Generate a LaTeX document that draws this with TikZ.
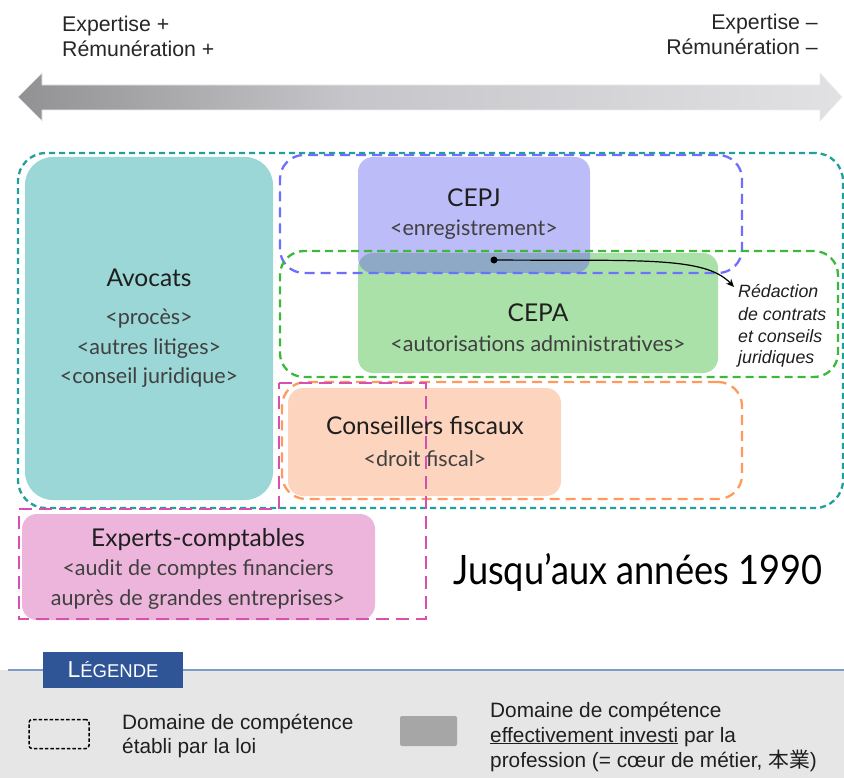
\documentclass[tikz,border=0pt]{standalone}
\usepackage{fontspec}
\setmainfont{Liberation Sans}
\newfontfamily\latof{Lato}
\newfontfamily\cjkf{Noto Sans CJK JP}
\usetikzlibrary{arrows.meta}
\definecolor{tealdash}{HTML}{20A09C}
\definecolor{avocfill}{HTML}{9BD7D6}
\definecolor{bluedash}{HTML}{6E6EFF}
\definecolor{cepjfill}{HTML}{BCBCF8}
\definecolor{greendash}{HTML}{3CB83C}
\definecolor{cepafill}{HTML}{A9E1A9}
\definecolor{overlapfill}{HTML}{8DA9C6}
\definecolor{orangedash}{HTML}{FF9A5C}
\definecolor{fiscfill}{HTML}{FDD5BE}
\definecolor{magdash}{HTML}{D94FB0}
\definecolor{expfill}{HTML}{EDB5DB}
\definecolor{legband}{HTML}{E6E6E6}
\definecolor{legline}{HTML}{7F9CC8}
\definecolor{legtab}{HTML}{2F5597}
\definecolor{legsq}{HTML}{A6A6A6}
\definecolor{arrowL}{HTML}{505050}
\definecolor{arrowM}{HTML}{C6C6CA}
\definecolor{arrowR}{HTML}{F8F8FA}
\pgfdeclarehorizontalshading{grayarrow}{100bp}{color(0bp)=(arrowL); color(45bp)=(arrowM); color(100bp)=(arrowR)}
\tikzset{
  fillbox/.style={rectangle, rounded corners=15pt, inner sep=0pt, outer sep=0pt, draw=none},
  lawbox/.style={rectangle, rounded corners=24pt, inner sep=0pt, outer sep=0pt, line width=2.3pt, fill=none},
  ttl/.style={font=\latof\fontsize{24.5}{28}\selectfont, text=black!88, anchor=base, inner sep=0pt},
  sub/.style={font=\latof\fontsize{21.5}{25}\selectfont, text=black!75, anchor=base, inner sep=0pt},
  toptxt/.style={font=\fontsize{21.3}{25}\selectfont, text=black!85, inner sep=0pt},
  legtxt/.style={font=\fontsize{20.8}{24}\selectfont, text=black!88, inner sep=0pt, anchor=base west},
  redtxt/.style={font=\itshape\fontsize{17.8}{21}\selectfont, text=black!88, inner sep=0pt, anchor=base west},
}
\begin{document}
\begin{tikzpicture}[x=1pt,y=-1pt]
\useasboundingbox (0,0) rectangle (844,778);
% top labels
\node[toptxt, anchor=base west] (tl1) at (62,32) {Expertise +};
\node[toptxt, anchor=base west] (tl2) at (62,57) {Rémunération +};
\node[toptxt, anchor=base east] (tr1) at (818,30) {Expertise –};
\node[toptxt, anchor=base east] (tr2) at (818,55) {Rémunération –};
% gradient double arrow
\path[shading=grayarrow, draw=black!8, line width=0.6pt]
  (18,97) -- (42,73) -- (42,85) -- (820,85) -- (820,73) -- (842,97)
  -- (820,121) -- (820,110) -- (42,110) -- (42,121) -- cycle;
% legal domain of avocats
\node[lawbox, draw=tealdash, rounded corners=28pt, dash pattern=on 6pt off 4pt,
      minimum width=825pt, minimum height=355pt] (avlaw) at (430.5,330.5) {};
% filled core boxes
\node[fillbox, fill=avocfill, rounded corners=28pt, minimum width=248pt, minimum height=343pt] (avocats) at (149,328.5) {};
\node[fillbox, fill=cepafill, minimum width=360pt, minimum height=120pt] (cepa) at (538,313) {};
\node[fillbox, fill=cepjfill, minimum width=232pt, minimum height=116pt] (cepj) at (474,215) {};
\begin{scope}
  \clip[rounded corners=15pt] (cepj.north west) rectangle (cepj.south east);
  \fill[overlapfill, rounded corners=15pt] (cepa.north west) rectangle (cepa.south east);
\end{scope}
\node[fillbox, fill=fiscfill, minimum width=273pt, minimum height=108pt] (fisc) at (424.5,442) {};
\node[fillbox, fill=expfill, minimum width=353pt, minimum height=106pt] (experts) at (198.5,567) {};
% legal domains (dashed)
\node[lawbox, draw=bluedash, dash pattern=on 10pt off 6pt, minimum width=462pt, minimum height=118pt] (cepjlaw) at (511,214) {};
\node[lawbox, draw=greendash, dash pattern=on 8pt off 5pt, minimum width=558pt, minimum height=126pt] (cepalaw) at (559,314) {};
\node[lawbox, draw=orangedash, dash pattern=on 10pt off 6pt, minimum width=460pt, minimum height=117pt] (fisclaw) at (512,440.5) {};
\draw[magdash, line width=2.3pt, dash pattern=on 13pt off 7pt]
  (279,383) -- (426,383) -- (426,619) -- (19,619) -- (19,509) -- (279,509) -- cycle;
% texts in boxes
\node[ttl] (avt) at (149,287) {Avocats};
\node[sub] (av1) at (149,325) {<procès>};
\node[sub] (av2) at (149,354) {<autres litiges>};
\node[sub] (av3) at (149,383) {<conseil juridique>};
\node[ttl] (cepjt) at (474,207) {CEPJ};
\node[sub] (cepj1) at (474,236) {<enregistrement>};
\node[ttl] (cepat) at (538,322) {CEPA};
\node[sub] (cepa1) at (538,351) {<autorisations administratives>};
\node[ttl] (fisct) at (425,434) {Conseillers fiscaux};
\node[sub] (fisc1) at (425,466) {<droit fiscal>};
\node[ttl] (expt) at (198,546) {Experts-comptables};
\node[sub] (exp1) at (198,575) {<audit de comptes financiers};
\node[sub] (exp2) at (198,605) {auprès de grandes entreprises>};
% arrow to note
\node[circle, fill=black, inner sep=0pt, minimum size=7pt] (dot) at (494,260) {};
\node[redtxt] (r1) at (738,298) {Rédaction};
\node[redtxt] (r2) at (738,320) {de contrats};
\node[redtxt] (r3) at (738,342) {et conseils};
\node[redtxt] (r4) at (738,363) {juridiques};
\coordinate (arrend) at (734,287);
\draw[line width=1.2pt, -{Stealth[length=8pt,width=7pt]}]
  (dot.center) .. controls (640,261) and (705,256) .. (arrend);
% period title
\node[anchor=base west, inner sep=0pt] (period) at (453,584)
  {\resizebox{369pt}{31pt}{\latof Jusqu’aux années 1990}};
% legend
\fill[legband] (0,670) rectangle (844,778);
\draw[legline, line width=1.5pt] (8,670) -- (844,670);
\node[fill=legtab, text=white, minimum width=140pt, minimum height=36pt, inner sep=0pt] (legtitle) at (113,670)
  {\fontsize{23}{26}\selectfont L\fontsize{18.5}{26}\selectfont ÉGENDE};
\node[draw=black, line width=1.5pt, dash pattern=on 3.5pt off 2pt, rounded corners=3pt,
      minimum width=60pt, minimum height=29pt, inner sep=0pt] (legdash) at (59,734) {};
\node[legtxt] (ld1) at (122,729) {Domaine de compétence};
\node[legtxt] (ld2) at (122,753) {établi par la loi};
\node[fill=legsq, rounded corners=2pt, minimum width=57pt, minimum height=30pt, inner sep=0pt] (legsquare) at (428.5,731) {};
\node[legtxt] (lr1) at (490,717) {Domaine de compétence};
\node[legtxt] (lr2) at (490,742) {\underline{effectivement investi} par la};
\node[legtxt] (lr3) at (490,767) {profession (= cœur de métier, {\cjkf 本業})};
\end{tikzpicture}
\end{document}
